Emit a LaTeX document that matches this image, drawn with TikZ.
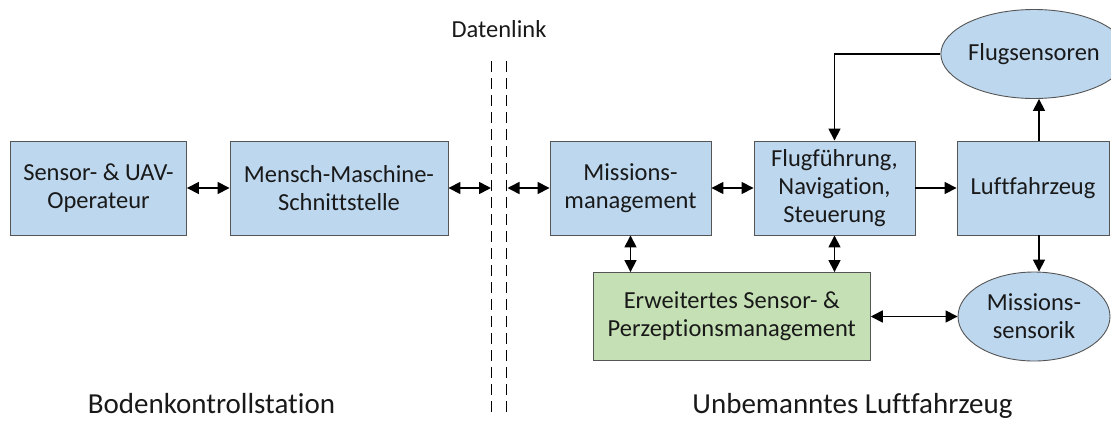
\documentclass[tikz,border=0pt]{standalone}
\usepackage{fontspec}
\setmainfont{Carlito}[Ligatures=NoCommon]
\usetikzlibrary{arrows.meta,shapes.geometric}
\definecolor{boxblue}{HTML}{BDD7EE}
\definecolor{boxgreen}{HTML}{C5E0B4}
\definecolor{boxline}{HTML}{555555}
\begin{document}
\begin{tikzpicture}[x=1pt,y=-1pt,
  block/.style={draw=boxline, line width=0.9pt, fill=boxblue, minimum height=94pt,
    inner sep=0pt, align=center, text=black!90, font=\fontsize{24.5}{28}\selectfont},
  sensor/.style={ellipse, draw=boxline, line width=0.9pt, fill=boxblue,
    minimum width=152pt, minimum height=89pt, inner sep=0pt, align=center,
    text=black!90, font=\fontsize{24.5}{28}\selectfont},
  link/.style={line width=1.6pt, -{Triangle[length=12pt,width=12pt]}},
  duplex/.style={line width=1.6pt, {Triangle[length=12pt,width=12pt]}-{Triangle[length=12pt,width=12pt]}},
  divider/.style={line width=1pt, dash pattern=on 11pt off 6pt},
  caption/.style={anchor=base, text=black!90, font=\fontsize{29}{34}\selectfont}
]
\useasboundingbox (0,0) rectangle (1111,421);

% ground station
\node[block, minimum width=176pt] (op) at (98.5,188) {Sensor- \& UAV-\\Operateur};
\node[block, minimum width=218pt] (mmi) at (339,188) {Mensch-Maschine-\\Schnittstelle};

% data link
\node[anchor=base, text=black!90, font=\fontsize{24.5}{28}\selectfont] (dl) at (499,37) {Datenlink};
\coordinate (d1t) at (491.7,61);
\coordinate (d1b) at (491.7,413);
\coordinate (d2t) at (506.7,61);
\coordinate (d2b) at (506.7,413);
\draw[divider] (d1t) -- (d1b);
\draw[divider] (d2t) -- (d2b);
\coordinate (l1) at (491,188);
\coordinate (l2) at (507.5,188);

% air vehicle
\node[block, minimum width=161pt] (mm) at (630.5,188) {Missions-\\management};
\node[block, minimum width=161pt] (fns) at (834.5,188) {Flugführung,\\Navigation,\\Steuerung};
\node[block, minimum width=152pt] (lfz) at (1033,188) {Luftfahrzeug};
\node[sensor] (fs) at (1034,54) {Flugsensoren};
\node[block, fill=boxgreen, minimum width=277pt, minimum height=88pt] (esp) at (731.8,316.5)
  {Erweitertes Sensor- \&\\Perzeptionsmanagement};
\node[sensor] (ms) at (1034,316.5) {Missions-\\sensorik};

% captions
\node[caption] (gcs) at (211.5,413) {Bodenkontrollstation};
\node[caption] (uav) at (852.5,413) {Unbemanntes Luftfahrzeug};

% connections
\draw[duplex] (op) -- (mmi);
\draw[duplex] (mmi.east) -- (l1);
\draw[duplex] (l2) -- (mm.west);
\draw[duplex] (mm) -- (fns);
\draw[link] (fns) -- (lfz);
\draw[link] (fs.west) -| (fns.north);
\draw[link] ([xshift=6pt]lfz.north) -- ([xshift=6pt]lfz.north |- fs.south);
\draw[link] ([xshift=6pt]lfz.south) -- ([xshift=6pt]lfz.south |- ms.north);
\draw[duplex] (mm.south |- esp.north) -- (mm.south);
\draw[duplex] (fns.south) -- (fns.south |- esp.north);
\draw[duplex] (esp) -- (ms);
\end{tikzpicture}
\end{document}
